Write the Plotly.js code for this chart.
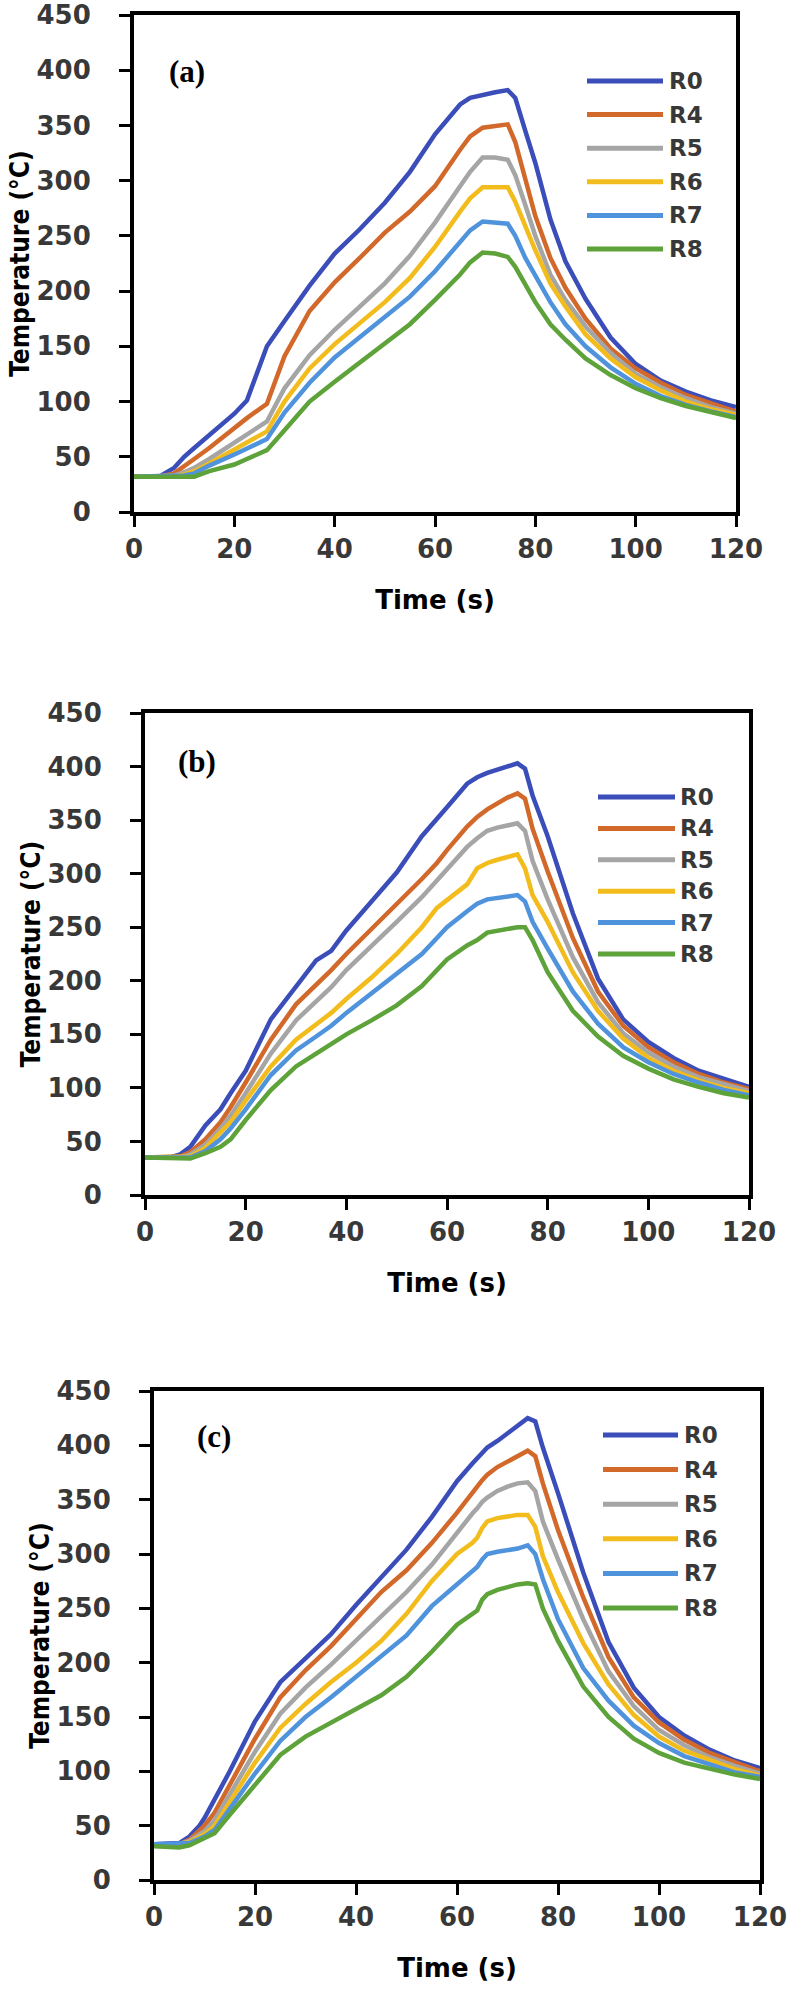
<!DOCTYPE html>
<html>
<head>
<meta charset="utf-8">
<script src="https://cdn.plot.ly/plotly-3.0.1.min.js"></script>
<style>html,body{margin:0;padding:0;background:#fff;}#chart{width:791px;height:1990px;}</style>
</head>
<body>
<div id="chart"></div>
<script>
// ---------- data ----------
const seriesNames = ['R0', 'R4', 'R5', 'R6', 'R7', 'R8'];
const panelLabels = ['(a)', '(b)', '(c)'];
const xTitle = 'Time (s)';
const yTitle = 'Temperature (°C)';

// Panel (a)
const timeA = [0, 5, 8, 10, 12, 15, 20, 22.5, 26.5, 30, 35, 40, 45, 50, 55, 60, 65, 67, 69.5, 72, 74.5, 76, 78, 80, 83, 86, 90, 95, 100, 105, 110, 115, 120];
const a_R0 = [32, 32, 40, 50, 58, 70, 89, 101, 150, 173, 205, 234, 256, 280, 308, 342, 369, 375, 378, 380, 382, 375, 345, 316, 265, 227, 193, 158, 134, 119, 109, 101, 95];
const a_R4 = [32, 32, 35, 42, 48, 58, 76, 85, 98, 141, 182, 208, 230, 253, 272, 295, 328, 340, 348, 349, 351, 335, 300, 268, 230, 203, 175, 148, 130, 117, 106, 98, 91];
const a_R5 = [32, 32, 33, 36, 40, 48, 63, 70, 82, 112, 142, 165, 186, 207, 232, 262, 295, 308, 321, 321, 319, 305, 278, 250, 215, 192, 168, 144, 125, 113, 103, 95, 89];
const a_R6 = [32, 32, 32, 34, 37, 44, 56, 63, 73, 100, 130, 152, 171, 190, 212, 240, 272, 284, 294, 294, 294, 281, 258, 237, 207, 186, 161, 139, 122, 110, 100, 93, 88];
const a_R7 = [32, 32, 32, 33, 35, 42, 52, 57, 66, 90, 117, 140, 158, 176, 195, 218, 245, 255, 263, 262, 261, 250, 230, 214, 190, 170, 150, 131, 116, 105, 97, 91, 86];
const a_R8 = [32, 32, 31, 31, 32, 37, 43, 48, 56, 74, 100, 118, 135, 152, 170, 192, 215, 226, 235, 234, 231, 222, 205, 190, 170, 156, 139, 124, 112, 103, 96, 90, 85];

// Panel (b)
const timeB = [0, 5, 7, 9, 12, 15, 17, 20, 25, 30, 34, 37, 40, 45, 50, 55, 58, 60, 64, 66, 68, 70, 72, 74, 75.5, 77, 80, 85, 90, 95, 100, 105, 110, 115, 120];
const b_R0 = [35, 35, 38, 45, 65, 80, 95, 116, 164, 194, 219, 228, 247, 274, 301, 335, 352, 362, 384, 390, 394, 397, 401, 403, 398, 373, 335, 263, 202, 164, 143, 128, 116, 108, 101];
const b_R4 = [35, 35, 36, 40, 52, 68, 82, 105, 145, 178, 196, 210, 225, 248, 272, 295, 310, 322, 344, 353, 360, 366, 371, 375, 370, 342, 302, 240, 190, 158, 138, 124, 113, 105, 99];
const b_R5 = [35, 35, 35, 38, 47, 62, 74, 95, 132, 163, 181, 194, 210, 232, 255, 278, 294, 305, 325, 333, 340, 343, 345, 347, 340, 312, 276, 222, 180, 151, 133, 120, 110, 103, 97];
const b_R6 = [35, 35, 35, 36, 44, 58, 68, 88, 120, 145, 159, 170, 183, 203, 225, 250, 268, 275, 290, 305, 310, 313, 316, 318, 305, 280, 255, 208, 172, 146, 128, 116, 107, 100, 95];
const b_R7 = [35, 35, 35, 35, 41, 52, 62, 80, 112, 135, 148, 158, 170, 188, 206, 225, 240, 250, 265, 272, 276, 277, 278, 280, 274, 255, 230, 190, 160, 138, 124, 113, 105, 98, 93];
const b_R8 = [35, 35, 34, 34, 39, 45, 52, 70, 98, 120, 132, 141, 150, 163, 177, 195, 210, 220, 233, 238, 245, 247, 249, 250, 250, 238, 208, 172, 148, 130, 118, 108, 101, 95, 91];

// Panel (c)
const timeC = [0, 3, 5, 7, 9, 10, 12, 15, 20, 25, 30, 35, 40, 45, 50, 55, 60, 63, 64, 65, 66, 68, 70, 72, 74, 75.5, 77, 80, 85, 90, 95, 100, 105, 110, 115, 120];
const c_R0 = [33, 33, 34, 40, 50, 57, 74, 100, 146, 182, 204, 226, 253, 278, 304, 334, 367, 383, 388, 393, 398, 404, 411, 418, 425, 422, 398, 356, 283, 219, 177, 150, 133, 120, 110, 103];
const c_R4 = [33, 33, 33, 37, 45, 50, 62, 88, 130, 168, 193, 215, 240, 265, 285, 310, 338, 355, 362, 368, 373, 380, 385, 390, 395, 390, 365, 322, 260, 205, 168, 145, 129, 117, 108, 100];
const c_R5 = [33, 33, 33, 36, 42, 45, 55, 78, 118, 153, 177, 198, 220, 242, 265, 290, 320, 337, 342, 348, 352, 358, 362, 365, 366, 358, 330, 295, 240, 192, 160, 138, 124, 113, 105, 98];
const c_R6 = [33, 33, 33, 35, 40, 42, 50, 72, 108, 140, 162, 182, 200, 220, 245, 275, 300, 310, 315, 324, 330, 333, 335, 336, 336, 325, 298, 265, 218, 180, 152, 132, 119, 110, 102, 96];
const c_R7 = [33, 33, 33, 34, 38, 40, 46, 66, 98, 128, 150, 168, 187, 205, 225, 252, 272, 283, 288, 295, 300, 302, 303, 305, 308, 300, 277, 240, 195, 165, 142, 126, 114, 106, 99, 95];
const c_R8 = [31, 30, 30, 32, 36, 39, 43, 60, 88, 115, 132, 145, 158, 170, 187, 210, 235, 245, 248, 258, 263, 267, 270, 272, 273, 272, 250, 220, 178, 150, 130, 117, 108, 102, 97, 93];

const xTicks = [0, 20, 40, 60, 80, 100, 120];
const yTicks = [0, 50, 100, 150, 200, 250, 300, 350, 400, 450];

// ---------- styling ----------
const colors = ['#3A4DB8', '#D2692A', '#A5A5A5', '#F2BC1C', '#4F93DC', '#5EA23A'];
const W = 791, H = 1990;
const px = v => v / W;
const py = v => 1 - v / H;

const panels = [
  {t: timeA, ys: [a_R0, a_R4, a_R5, a_R6, a_R7, a_R8], x0: 134, x1: 736, top: 15, bot: 512,
   leg: {lx0: 587, lx1: 663, tx: 667, y0: 81, dy: 33.6}, lab: {x: 187, y: 72}},
  {t: timeB, ys: [b_R0, b_R4, b_R5, b_R6, b_R7, b_R8], x0: 145, x1: 749, top: 713, bot: 1195,
   leg: {lx0: 598, lx1: 675, tx: 678, y0: 797, dy: 31.4}, lab: {x: 197, y: 761}},
  {t: timeC, ys: [c_R0, c_R4, c_R5, c_R6, c_R7, c_R8], x0: 154, x1: 760, top: 1391, bot: 1880,
   leg: {lx0: 603, lx1: 678, tx: 682, y0: 1435, dy: 34.6}, lab: {x: 214, y: 1436}}
];

const tickFont = {family: 'DejaVu Sans, sans-serif', size: 26, color: '#383838', weight: 'bold'};
const traces = [];
const layout = {
  width: W, height: H, margin: {l: 0, r: 0, t: 0, b: 0},
  paper_bgcolor: '#ffffff', plot_bgcolor: '#ffffff',
  showlegend: false, shapes: [], annotations: []
};

panels.forEach((p, i) => {
  const sfx = i === 0 ? '' : String(i + 1);
  const xa = 'x' + sfx, ya = 'y' + sfx;
  p.ys.forEach((vals, k) => {
    traces.push({
      type: 'scatter', mode: 'lines', name: seriesNames[k], x: p.t, y: vals,
      xaxis: xa, yaxis: ya, line: {color: colors[k], width: 4.5}, hoverinfo: 'x+y+name'
    });
  });
  const common = {
    showline: true, mirror: true, linecolor: '#000', linewidth: 4,
    ticks: 'outside', ticklen: 11, tickwidth: 3, tickcolor: '#000',
    showgrid: false, zeroline: false, tickfont: tickFont, fixedrange: true
  };
  layout['xaxis' + sfx] = Object.assign({}, common, {
    domain: [px(p.x0), px(p.x1)], anchor: ya, range: [0, 120],
    tickvals: xTicks, ticklabelstandoff: 0,
    title: {text: xTitle, standoff: 29, font: {family: 'DejaVu Sans, sans-serif', size: 26, color: '#000', weight: 'bold'}}
  });
  layout['yaxis' + sfx] = Object.assign({}, common, {
    domain: [py(p.bot), py(p.top)], anchor: xa, range: [0, 450],
    tickvals: yTicks, ticklabelstandoff: 23,
    title: {text: yTitle, standoff: 0, font: {family: 'Liberation Sans Narrow, DejaVu Sans Condensed, sans-serif', size: 26, color: '#000', weight: 'bold'}}
  });
  // legend drawn as sample lines + text
  seriesNames.forEach((n, k) => {
    const yy = p.leg.y0 + k * p.leg.dy;
    layout.shapes.push({type: 'line', xref: 'paper', yref: 'paper',
      x0: px(p.leg.lx0), x1: px(p.leg.lx1), y0: py(yy), y1: py(yy),
      line: {color: colors[k], width: 5}});
    layout.annotations.push({xref: 'paper', yref: 'paper', x: px(p.leg.tx), y: py(yy),
      xanchor: 'left', yanchor: 'middle', text: n, showarrow: false,
      font: {family: 'DejaVu Sans, sans-serif', size: 23, color: '#383838', weight: 'bold'}});
  });
  layout.annotations.push({xref: 'paper', yref: 'paper', x: px(p.lab.x), y: py(p.lab.y),
    xanchor: 'center', yanchor: 'middle', text: panelLabels[i], showarrow: false,
    font: {family: 'Liberation Serif, serif', size: 31, color: '#000', weight: 'bold'}});
});

Plotly.newPlot('chart', traces, layout, {displayModeBar: false, staticPlot: true});
</script>
</body>
</html>
